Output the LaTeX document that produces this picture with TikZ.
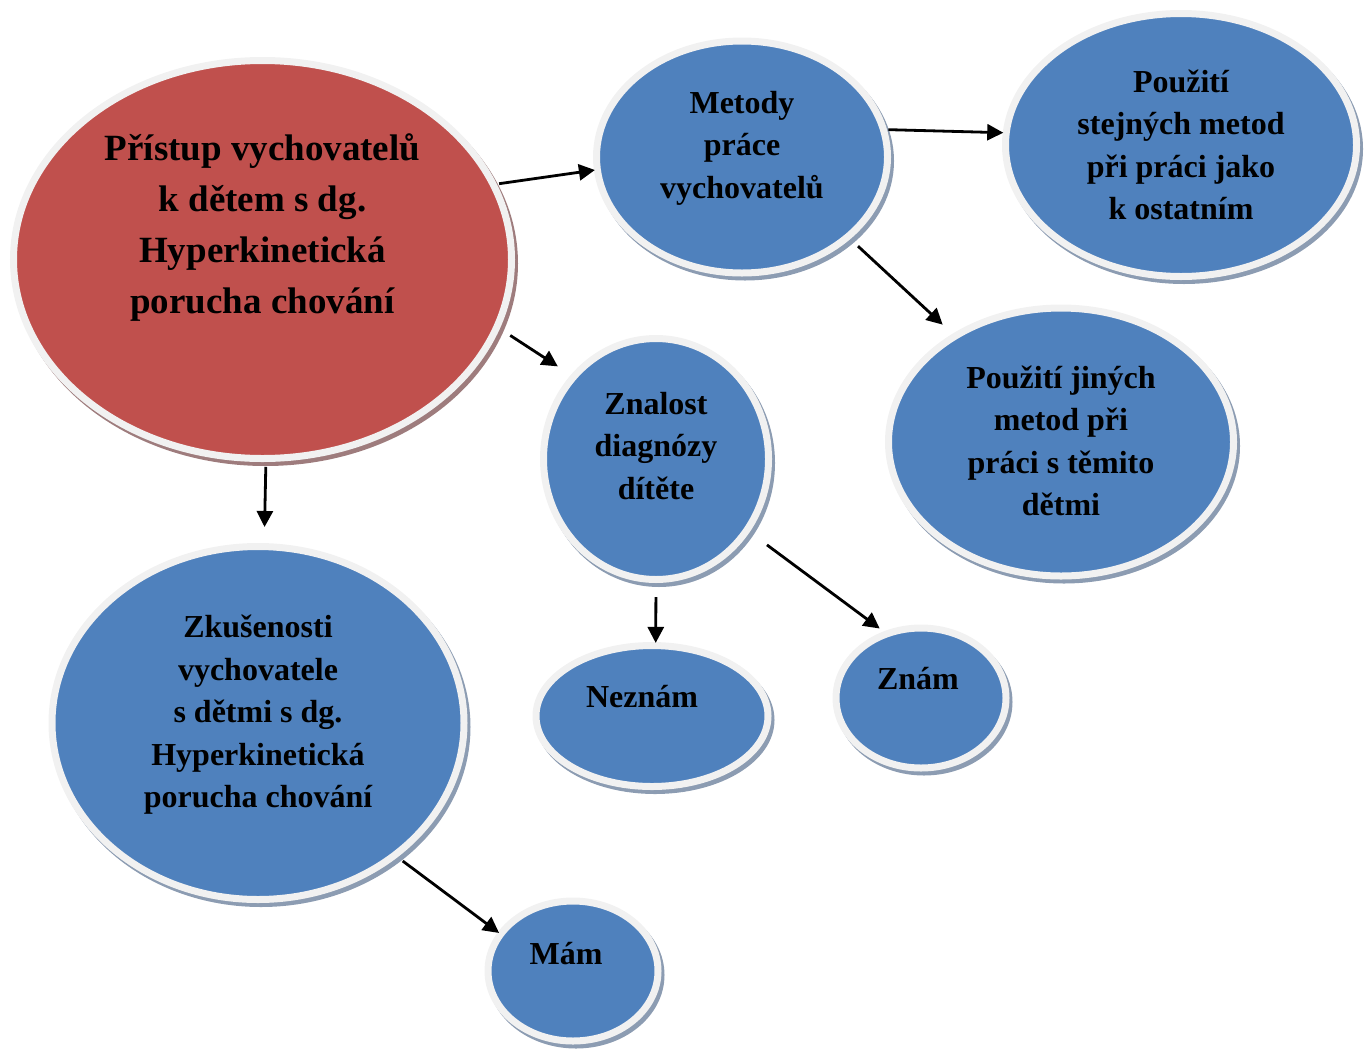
\documentclass[tikz,border=0pt]{standalone}
\usepackage{fontspec}
\setmainfont{Liberation Serif}
\usetikzlibrary{shapes.geometric,arrows.meta}

\definecolor{redfill}{HTML}{C0504D}
\definecolor{redfillsh}{HTML}{9E7C7D}
\definecolor{bluefill}{HTML}{4F81BD}
\definecolor{bluefillsh}{HTML}{8C9CB2}
\definecolor{rim}{HTML}{F1F1F1}

\tikzset{
  bubble/.style={ellipse, inner sep=0pt, outer sep=0pt, line width=7pt, draw=rim, fill=#1,
    preaction={fill=#1sh, draw=#1sh, line width=7pt, transform canvas={shift={(3pt,-4pt)}}}},
  txt/.style={font=\bfseries\fontsize{32}{42.5}\selectfont, align=center, text=black, inner sep=0pt},
  bigtxt/.style={txt, font=\bfseries\fontsize{37}{51}\selectfont},
  conn/.style={line width=2.8pt, draw=black, -{Triangle[length=16pt,width=16pt]}}
}

\begin{document}
\begin{tikzpicture}[x=1pt,y=-1pt]
\useasboundingbox (0,0) rectangle (1368,1050);

% bubbles
\node[bubble=redfill, minimum width=498pt, minimum height=398pt,
  label={[bigtxt, name=redtxt, yshift=32pt]center:{Přístup vychovatelů\\k dětem s dg.\\Hyperkinetická\\porucha chování}}]
  (red) at (262.5,259.5) {};
\node[bubble=bluefill, minimum width=291pt, minimum height=232pt,
  label={[txt, name=mettxt, yshift=9pt]center:{Metody\\práce\\vychovatelů}}]
  (met) at (742,157) {};
\node[bubble=bluefill, minimum width=351pt, minimum height=263pt,
  label={[txt, name=stejtxt, yshift=0pt]center:{Použití\\stejných metod\\při práci jako\\k ostatním}}]
  (stej) at (1181,145) {};
\node[bubble=bluefill, minimum width=345pt, minimum height=268pt,
  label={[txt, name=jintxt, yshift=1pt]center:{Použití jiných\\metod při\\práci s těmito\\dětmi}}]
  (jin) at (1061,442) {};
\node[bubble=bluefill, minimum width=225pt, minimum height=241pt,
  label={[txt, name=znatxt, yshift=13pt]center:{Znalost\\diagnózy\\dítěte}}]
  (zna) at (656,459) {};
\node[bubble=bluefill, minimum width=412pt, minimum height=353pt,
  label={[txt, name=zkutxt, yshift=8pt]center:{Zkušenosti\\vychovatele\\s dětmi s dg.\\Hyperkinetická\\porucha chování}}]
  (zku) at (258,723) {};
\node[bubble=bluefill, minimum width=232pt, minimum height=141pt,
  label={[txt, name=neztxt, yshift=19pt, xshift=-10pt]center:{Neznám}}]
  (nez) at (652,716) {};
\node[bubble=bluefill, minimum width=170pt, minimum height=140pt,
  label={[txt, name=znmtxt, yshift=19pt, xshift=-3pt]center:{Znám}}]
  (znm) at (921,698) {};
\node[bubble=bluefill, minimum width=170pt, minimum height=140pt,
  label={[txt, name=mamtxt, yshift=17pt, xshift=-7pt]center:{Mám}}]
  (mam) at (573,971) {};

% connectors
\draw[conn, shorten <=6pt, shorten >=2.5pt] (red.18.6) -- (met.185.4);
\draw[conn, shorten <=5pt, shorten >=3pt] (met.11.2) -- (stej.176.1);
\draw[conn, shorten <=14pt, shorten >=17pt] (met.-37.5) -- (jin.135.5);
\draw[conn, shorten <=16pt, shorten >=19pt] (red.-16.4) -- (zna.135.3);
\draw[conn, shorten <=8.5pt, shorten >=19.6pt] (red.-89.6) -- (zku.88);
\draw[conn, shorten <=17.5pt, shorten >=2.6pt] (zna.-90) -- (nez.87);
\draw[conn, shorten <=25pt, shorten >=9pt] (zna.-38.1) -- (znm.118.4);
\draw[conn, shorten <=10pt, shorten >=2pt] (zku.-44) -- (mam.153);
\end{tikzpicture}
\end{document}
